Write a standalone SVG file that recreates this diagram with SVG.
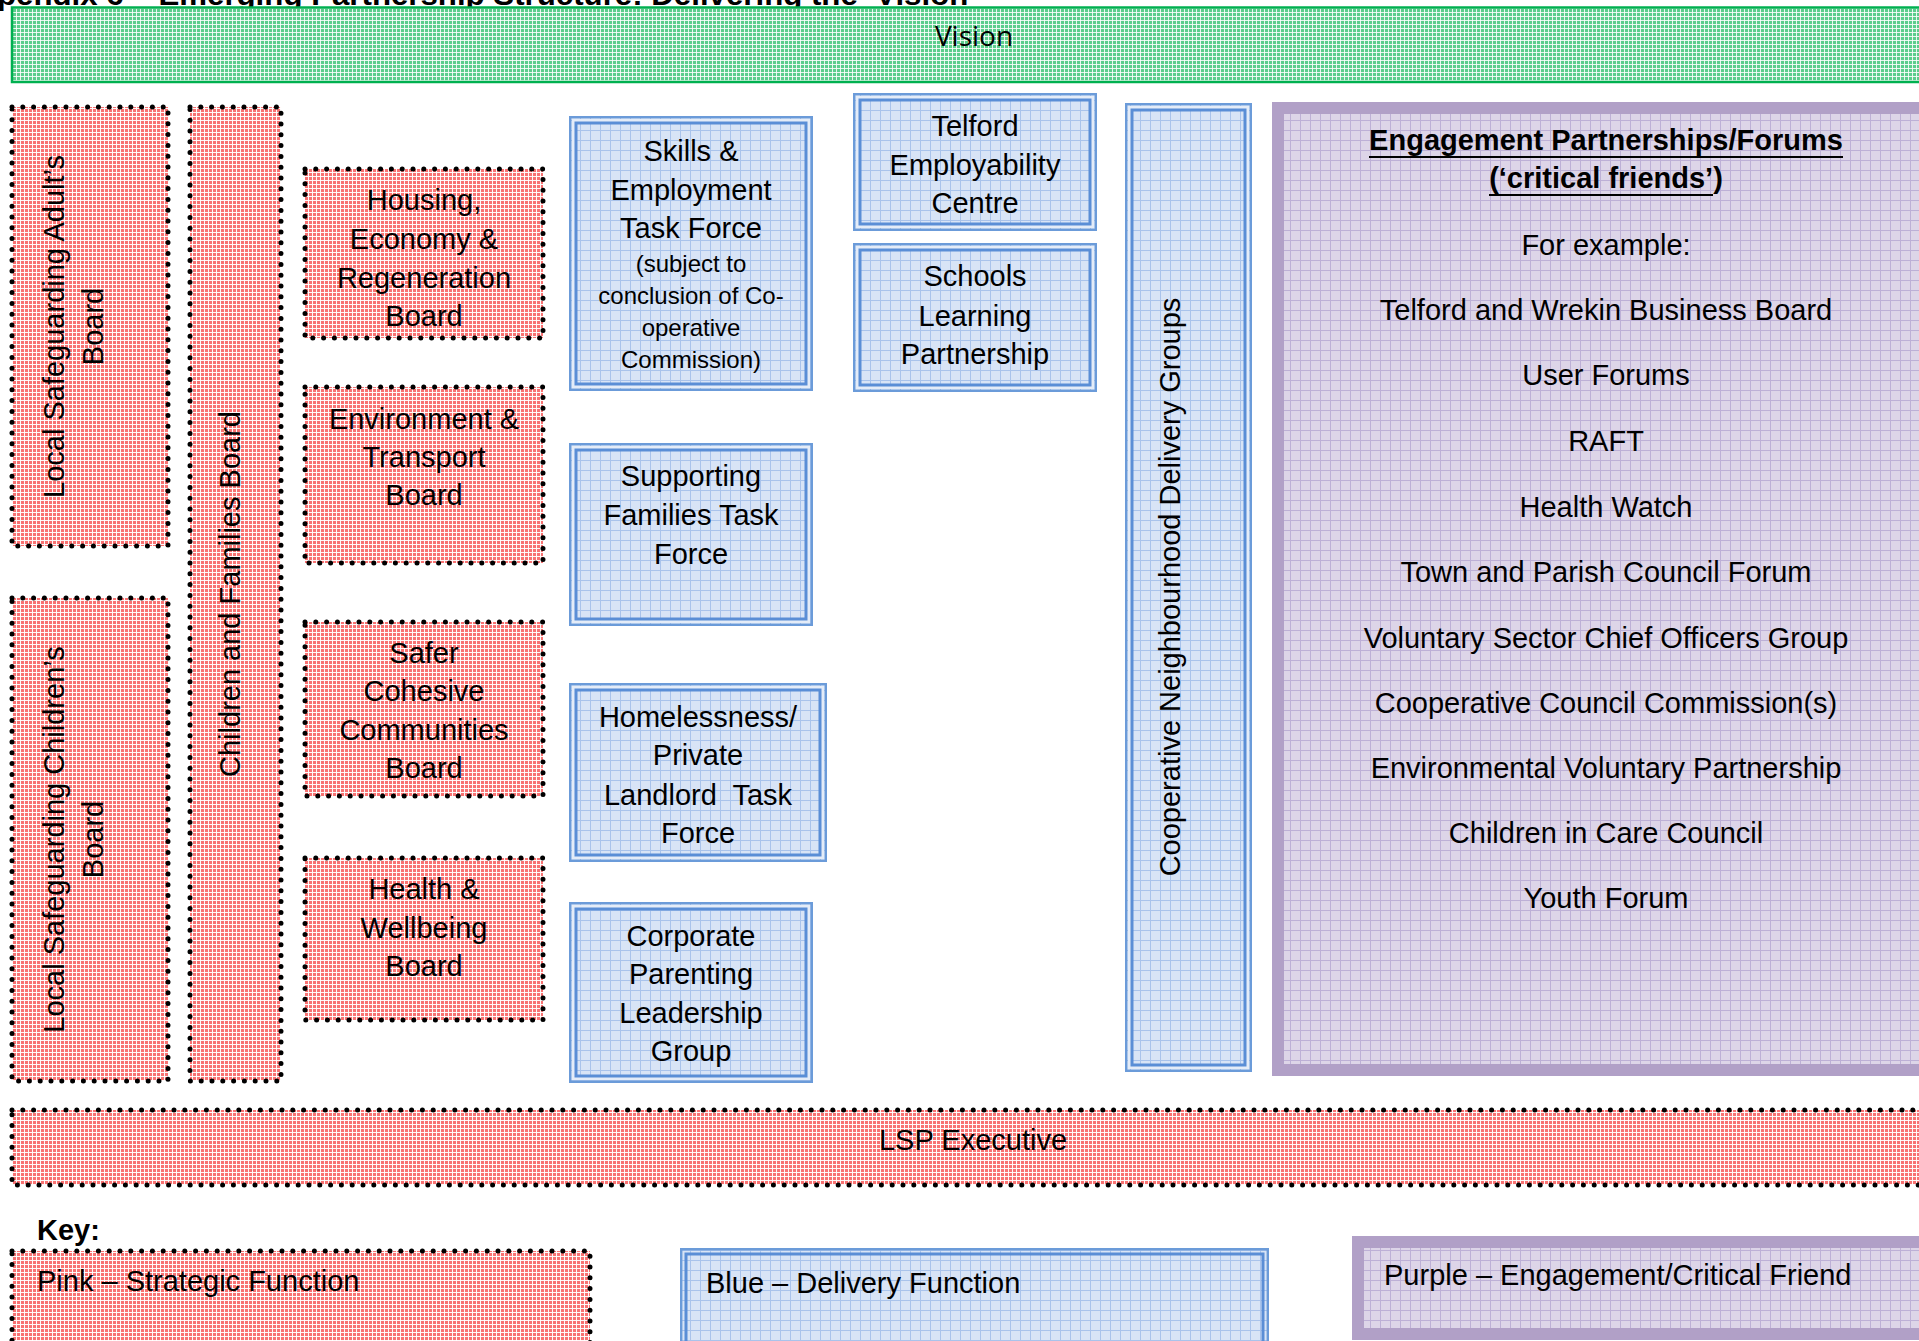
<svg xmlns="http://www.w3.org/2000/svg" width="1919" height="1341" viewBox="0 0 1919 1341">
<defs>
<pattern id="pk" width="4" height="4" patternUnits="userSpaceOnUse"><rect width="4" height="4" fill="#f87272"/><path d="M0 .5H4M.5 0V4" stroke="#fff" stroke-opacity=".95" stroke-width="1"/></pattern>
<pattern id="gr" width="4" height="4" patternUnits="userSpaceOnUse"><rect width="4" height="4" fill="#5ccd8c"/><path d="M0 .5H4M.5 0V4" stroke="#fff" stroke-opacity=".85" stroke-width="1"/></pattern>
<pattern id="bl" width="10" height="10" patternUnits="userSpaceOnUse"><rect width="10" height="10" fill="#d8e4f6"/><path d="M0 .5H10M.5 0V10" stroke="#a9c3eb" stroke-width="1"/></pattern>
<pattern id="pu" width="10" height="10" patternUnits="userSpaceOnUse"><rect width="10" height="10" fill="#ddd5e8"/><path d="M0 .5H10M.5 0V10" stroke="#bdb0d6" stroke-width="1"/></pattern>
<style>
text{font-family:"Liberation Sans",Arial,sans-serif;font-size:29px;fill:#000}
.c{text-anchor:middle}
.b{font-weight:bold}
.s{font-size:24px}
.pkf{fill:url(#pk)}
.dot{fill:none;stroke:#000;stroke-width:5;stroke-linecap:round;stroke-dasharray:0 10.8}
.blf{fill:url(#bl)}
.bo{fill:none;stroke:#6b9bd9;stroke-width:2.4}
.bm{fill:none;stroke:#e4ecf8;stroke-width:3}
.bi{fill:none;stroke:#5a8ed6;stroke-width:3}
.puf{fill:url(#pu)}
.pub{fill:none;stroke:#b1a0c7;stroke-width:12}
</style>
</defs>

<g id="title"><text class="b" x="-3" y="5" font-size="31.5" textLength="980" lengthAdjust="spacingAndGlyphs">pendix 6 – Emerging Partnership Structure: Delivering the ‘Vision’</text></g>

<g id="vision">
<rect x="12" y="7.5" width="1920" height="74.5" fill="url(#gr)" stroke="#00b050" stroke-width="2.5"/>
<text class="c" x="974" y="46" style="font-family:'Open Sans','Liberation Sans',sans-serif;font-size:28px">Vision</text>
</g>

<g id="lsab">
<rect class="pkf" x="12" y="107" width="156" height="439"/><rect class="dot" x="12" y="107" width="156" height="439"/>
<text class="c" transform="translate(63.5,326.5) rotate(-90)">Local Safeguarding Adult’s</text>
<text class="c" transform="translate(102.5,326.5) rotate(-90)">Board</text>
</g>
<g id="lscb">
<rect class="pkf" x="12" y="598" width="156" height="483"/><rect class="dot" x="12" y="598" width="156" height="483"/>
<text class="c" transform="translate(63.5,839.5) rotate(-90)">Local Safeguarding Children’s</text>
<text class="c" transform="translate(102.5,839.5) rotate(-90)">Board</text>
</g>
<g id="cfb">
<rect class="pkf" x="190" y="107" width="91" height="974"/><rect class="dot" x="190" y="107" width="91" height="974"/>
<text class="c" transform="translate(240,594) rotate(-90)">Children and Families Board</text>
</g>
<g id="housing">
<rect class="pkf" x="305" y="169" width="238" height="169"/><rect class="dot" x="305" y="169" width="238" height="169"/>
<text class="c" x="424" y="210">Housing,</text><text class="c" x="424" y="249">Economy &amp;</text><text class="c" x="424" y="288">Regeneration</text><text class="c" x="424" y="326">Board</text>
</g>
<g id="environment">
<rect class="pkf" x="305" y="387" width="238" height="176"/><rect class="dot" x="305" y="387" width="238" height="176"/>
<text class="c" x="424" y="429">Environment &amp;</text><text class="c" x="424" y="467">Transport</text><text class="c" x="424" y="505">Board</text>
</g>
<g id="safer">
<rect class="pkf" x="305" y="622" width="238" height="174"/><rect class="dot" x="305" y="622" width="238" height="174"/>
<text class="c" x="424" y="663">Safer</text><text class="c" x="424" y="701">Cohesive</text><text class="c" x="424" y="740">Communities</text><text class="c" x="424" y="778">Board</text>
</g>
<g id="health">
<rect class="pkf" x="305" y="858" width="238" height="162"/><rect class="dot" x="305" y="858" width="238" height="162"/>
<text class="c" x="424" y="899">Health &amp;</text><text class="c" x="424" y="938">Wellbeing</text><text class="c" x="424" y="976">Board</text>
</g>

<g id="skills">
<rect class="blf" x="569" y="116" width="244" height="275"/><rect class="bo" x="570.2" y="117.2" width="241.6" height="272.6"/><rect class="bm" x="573.5" y="120.5" width="235" height="266"/><rect class="bi" x="576" y="123" width="230" height="261"/>
<text class="c" x="691" y="161">Skills &amp;</text><text class="c" x="691" y="200">Employment</text><text class="c" x="691" y="238">Task Force</text>
<text class="c s" x="691" y="272">(subject to</text><text class="c s" x="691" y="304">conclusion of Co-</text><text class="c s" x="691" y="336">operative</text><text class="c s" x="691" y="368">Commission)</text>
</g>
<g id="supporting">
<rect class="blf" x="569" y="443" width="244" height="183"/><rect class="bo" x="570.2" y="444.2" width="241.6" height="180.6"/><rect class="bm" x="573.5" y="447.5" width="235" height="174"/><rect class="bi" x="576" y="450" width="230" height="169"/>
<text class="c" x="691" y="486">Supporting</text><text class="c" x="691" y="525">Families Task</text><text class="c" x="691" y="564">Force</text>
</g>
<g id="homelessness">
<rect class="blf" x="569" y="683" width="258" height="179"/><rect class="bo" x="570.2" y="684.2" width="255.6" height="176.6"/><rect class="bm" x="573.5" y="687.5" width="249" height="170"/><rect class="bi" x="576" y="690" width="244" height="165"/>
<text class="c" x="698" y="727">Homelessness/</text><text class="c" x="698" y="765">Private</text><text class="c" x="698" y="805" xml:space="preserve">Landlord  Task</text><text class="c" x="698" y="843">Force</text>
</g>
<g id="corporate">
<rect class="blf" x="569" y="902" width="244" height="181"/><rect class="bo" x="570.2" y="903.2" width="241.6" height="178.6"/><rect class="bm" x="573.5" y="906.5" width="235" height="172"/><rect class="bi" x="576" y="909" width="230" height="167"/>
<text class="c" x="691" y="946">Corporate</text><text class="c" x="691" y="984">Parenting</text><text class="c" x="691" y="1023">Leadership</text><text class="c" x="691" y="1061">Group</text>
</g>
<g id="telford">
<rect class="blf" x="853" y="93" width="244" height="138"/><rect class="bo" x="854.2" y="94.2" width="241.6" height="135.6"/><rect class="bm" x="857.5" y="97.5" width="235" height="129"/><rect class="bi" x="860" y="100" width="230" height="124"/>
<text class="c" x="975" y="136">Telford</text><text class="c" x="975" y="175">Employability</text><text class="c" x="975" y="213">Centre</text>
</g>
<g id="schools">
<rect class="blf" x="853" y="243" width="244" height="149"/><rect class="bo" x="854.2" y="244.2" width="241.6" height="146.6"/><rect class="bm" x="857.5" y="247.5" width="235" height="140"/><rect class="bi" x="860" y="250" width="230" height="135"/>
<text class="c" x="975" y="286">Schools</text><text class="c" x="975" y="326">Learning</text><text class="c" x="975" y="364">Partnership</text>
</g>
<g id="cooperative">
<rect class="blf" x="1125" y="103" width="127" height="969"/><rect class="bo" x="1126.2" y="104.2" width="124.6" height="966.6"/><rect class="bm" x="1129.5" y="107.5" width="118" height="960"/><rect class="bi" x="1132" y="110" width="113" height="955"/>
<text class="c" transform="translate(1180,587) rotate(-90)">Cooperative Neighbourhood Delivery Groups</text>
</g>

<g id="engagement">
<rect class="puf" x="1272" y="102" width="660" height="974"/><rect class="pub" x="1278" y="108" width="660" height="962"/>
<text class="c b" x="1606" y="150">Engagement Partnerships/Forums</text>
<text class="c b" x="1606" y="188">(‘critical friends’)</text>
<line x1="1369" y1="157" x2="1843" y2="157" stroke="#000" stroke-width="2.2"/>
<line x1="1489" y1="195" x2="1713" y2="195" stroke="#000" stroke-width="2.2"/>
<text class="c" x="1606" y="255">For example:</text>
<text class="c" x="1606" y="320">Telford and Wrekin Business Board</text>
<text class="c" x="1606" y="385">User Forums</text>
<text class="c" x="1606" y="451">RAFT</text>
<text class="c" x="1606" y="517">Health Watch</text>
<text class="c" x="1606" y="582">Town and Parish Council Forum</text>
<text class="c" x="1606" y="648">Voluntary Sector Chief Officers Group</text>
<text class="c" x="1606" y="713">Cooperative Council Commission(s)</text>
<text class="c" x="1606" y="778">Environmental Voluntary Partnership</text>
<text class="c" x="1606" y="843">Children in Care Council</text>
<text class="c" x="1606" y="908">Youth Forum</text>
</g>

<g id="lsp">
<rect class="pkf" x="12" y="1110" width="1920" height="75"/><rect class="dot" x="12" y="1110" width="1920" height="75"/>
<text class="c" x="973" y="1150">LSP Executive</text>
</g>

<g id="key">
<text class="b" x="37" y="1240">Key:</text>
<g id="key-pink">
<rect class="pkf" x="12" y="1251" width="578" height="120"/><rect class="dot" x="12" y="1251" width="578" height="120"/>
<text x="37" y="1291">Pink – Strategic Function</text>
</g>
<g id="key-blue">
<rect class="blf" x="680" y="1248" width="589" height="120"/><rect class="bo" x="681.2" y="1249.2" width="586.6" height="117.6"/><rect class="bi" x="686" y="1254" width="577" height="108"/>
<text x="706" y="1293">Blue – Delivery Function</text>
</g>
<g id="key-purple">
<rect class="puf" x="1352" y="1236" width="600" height="104"/><rect class="pub" x="1358" y="1242" width="600" height="92"/>
<text x="1384" y="1285">Purple – Engagement/Critical Friend</text>
</g>
</g>

<g id="connectors"/>
</svg>
